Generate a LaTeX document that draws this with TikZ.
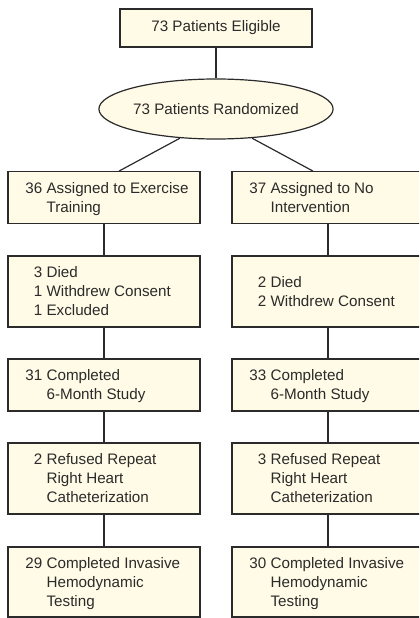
\documentclass[tikz,border=0pt]{standalone}
\usepackage{fontspec}
\setmainfont{Liberation Sans}
\usetikzlibrary{shapes.geometric,calc}
\definecolor{boxfill}{HTML}{FFFBE6}
\definecolor{ink}{HTML}{2B2B2B}
\newcommand\flowtext[1]{\begin{tabular}[t]{@{}l@{}}#1\end{tabular}}
\begin{document}
\begin{tikzpicture}[x=1bp,y=-1bp,
  box/.style={draw=ink, fill=boxfill, line width=1.2bp, rectangle, minimum width=192bp, inner sep=0pt, text=ink, font=\fontsize{15.2bp}{19bp}\selectfont},
  oval/.style={draw=ink, fill=boxfill, line width=1.2bp, ellipse, minimum width=191bp, minimum height=60bp, inner sep=0pt, text=ink, font=\fontsize{15.2bp}{19bp}\selectfont},
  txt/.style={anchor=base west, inner sep=0pt, text=ink, font=\fontsize{15.2bp}{19bp}\selectfont},
  link/.style={draw=ink, line width=1.2bp}]
\useasboundingbox (0,0) rectangle (419,618);
\clip (0,0) rectangle (419,618);

\node[box, minimum height=38bp] (T) at (216,28) {73 Patients Eligible};
\node[oval] (E) at (216,109) {73 Patients Randomized};

\node[box, minimum height=51.6bp] (L1) at (104,197.5) {};
\node[box, minimum height=51.6bp] (R1) at (328,197.5) {};
\node[box, minimum height=71bp] (L2) at (104,291.5) {};
\node[box, minimum height=71bp] (R2) at (328,291.5) {};
\node[box, minimum height=52bp] (L3) at (104,385) {};
\node[box, minimum height=52bp] (R3) at (328,385) {};
\node[box, minimum height=71bp] (L4) at (104,478.5) {};
\node[box, minimum height=71bp] (R4) at (328,478.5) {};
\node[box, minimum height=70bp] (L5) at (104,582) {};
\node[box, minimum height=70bp] (R5) at (328,582) {};

\node[txt] (tL1) at ($(L1.west)+(39,-4.05)$) {\flowtext{\llap{36\ }Assigned to Exercise\\Training}};
\node[txt] (tR1) at ($(R1.west)+(39,-4.05)$) {\flowtext{\llap{37\ }Assigned to No\\Intervention}};
\node[txt] (tL2) at ($(L2.west)+(39,-13.55)$) {\flowtext{\llap{3\ }Died\\\llap{1\ }Withdrew Consent\\\llap{1\ }Excluded}};
\node[txt] (tR2) at ($(R2.west)+(39,-4.05)$) {\flowtext{\llap{2\ }Died\\\llap{2\ }Withdrew Consent}};
\node[txt] (tL3) at ($(L3.west)+(39,-4.05)$) {\flowtext{\llap{31\ }Completed\\6-Month Study}};
\node[txt] (tR3) at ($(R3.west)+(39,-4.05)$) {\flowtext{\llap{33\ }Completed\\6-Month Study}};
\node[txt] (tL4) at ($(L4.west)+(39,-13.55)$) {\flowtext{\llap{2\ }Refused Repeat\\Right Heart\\Catheterization}};
\node[txt] (tR4) at ($(R4.west)+(39,-13.55)$) {\flowtext{\llap{3\ }Refused Repeat\\Right Heart\\Catheterization}};
\node[txt] (tL5) at ($(L5.west)+(39,-13.55)$) {\flowtext{\llap{29\ }Completed Invasive\\Hemodynamic\\Testing}};
\node[txt] (tR5) at ($(R5.west)+(39,-13.55)$) {\flowtext{\llap{30\ }Completed Invasive\\Hemodynamic\\Testing}};

\coordinate (jL) at ($(L1.north)+(15,0)$);
\coordinate (jR) at ($(R1.north)+(-15,0)$);
\draw[link] (T.south) -- (E.north);
\draw[link] (E.-141) -- (jL);
\draw[link] (E.-39) -- (jR);
\draw[link] (L1.south) -- (L2.north);
\draw[link] (L2.south) -- (L3.north);
\draw[link] (L3.south) -- (L4.north);
\draw[link] (L4.south) -- (L5.north);
\draw[link] (R1.south) -- (R2.north);
\draw[link] (R2.south) -- (R3.north);
\draw[link] (R3.south) -- (R4.north);
\draw[link] (R4.south) -- (R5.north);
\end{tikzpicture}
\end{document}
